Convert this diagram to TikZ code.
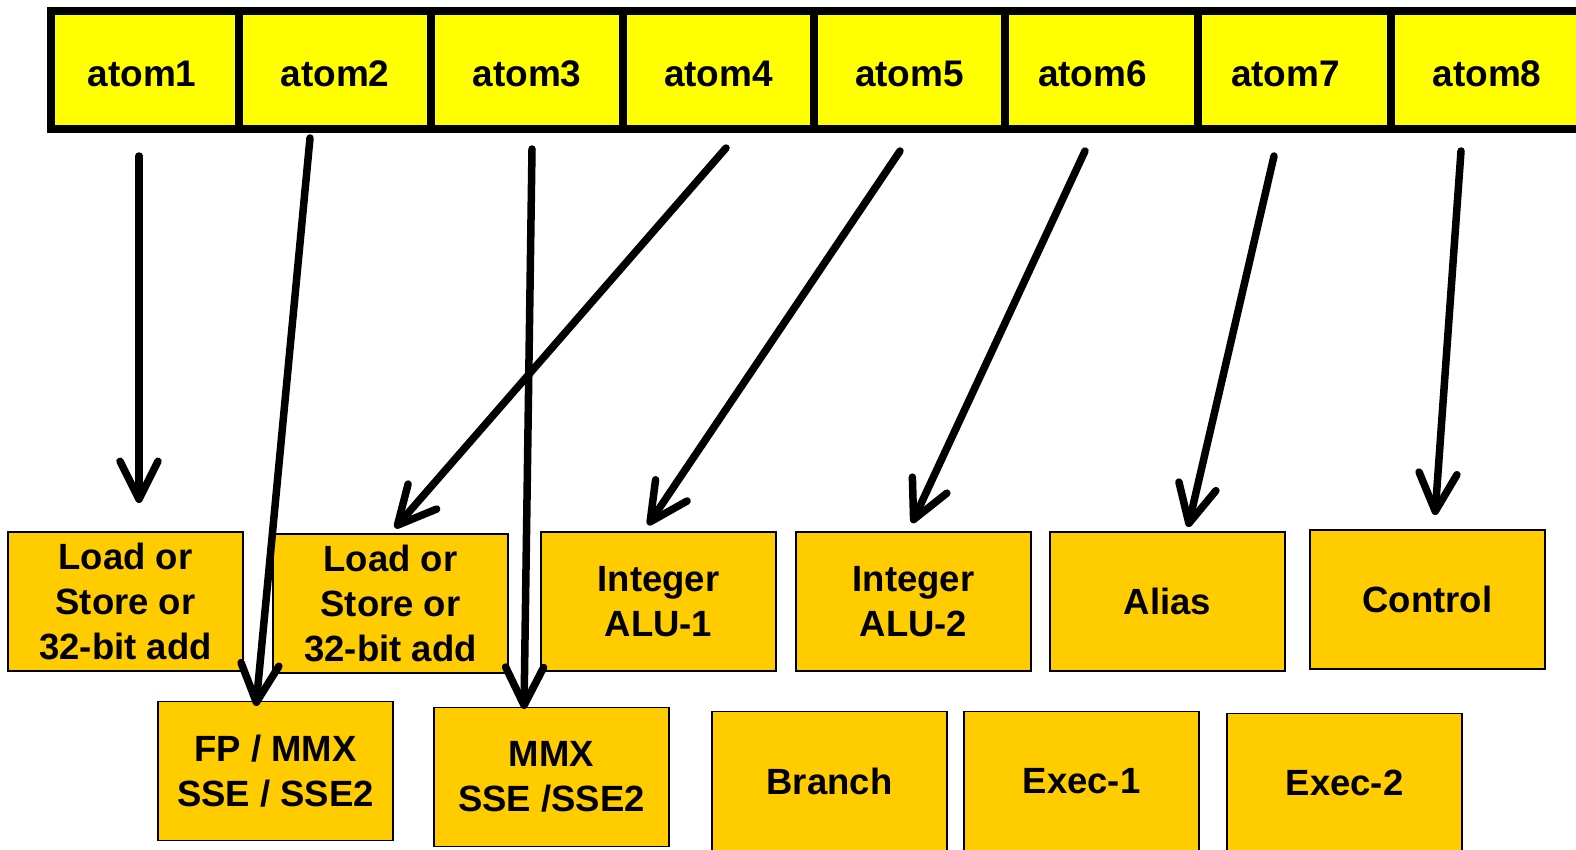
\documentclass[tikz,border=0pt]{standalone}
\usepackage{fontspec}
\setmainfont{Liberation Sans}
\usetikzlibrary{arrows.meta,calc}
\definecolor{cellyellow}{HTML}{FFFF00}
\definecolor{unitgold}{HTML}{FFCC00}
\begin{document}
\begin{tikzpicture}[x=1pt,y=-1pt,
  cell/.style={draw=black,line width=8pt,fill=cellyellow,rectangle,inner sep=0pt,minimum height=118pt,text height=33pt,text depth=0pt,font=\fontsize{37}{45}\selectfont\bfseries},
  unit/.style={draw=black,line width=1.8pt,fill=unitgold,rectangle,inner sep=0pt,minimum width=235pt,minimum height=139pt,align=center,font=\fontsize{36.5}{45}\selectfont\bfseries},
  arr/.style={line width=7.5pt,line cap=round,-{Straight Barb[length=38pt,width=38pt,round]}}]
\useasboundingbox (0,0) rectangle (1576,849);
\clip (0,0) rectangle (1576,849);
% top bar
\node[cell,minimum width=188pt] (a1) at (145,70) {\hspace*{-6pt}atom1};
\node[cell,minimum width=192pt] (a2) at (335,70) {atom2};
\node[cell,minimum width=192pt] (a3) at (527,70) {atom3};
\node[cell,minimum width=191pt] (a4) at (718.5,70) {atom4};
\node[cell,minimum width=191pt] (a5) at (909.5,70) {atom5};
\node[cell,minimum width=193pt] (a6) at (1101.5,70) {\hspace*{-18pt}atom6};
\node[cell,minimum width=193pt] (a7) at (1294.5,70) {\hspace*{-18pt}atom7};
\node[cell,minimum width=192pt] (a8) at (1487,70) {atom8};
% units, upper row
\node[unit] (ls1) at (125.5,601.5) {Load or\\Store or\\32-bit add};
\node[unit] (ls2) at (390.5,603.5) {Load or\\Store or\\32-bit add};
\node[unit] (ia1) at (658.5,601.5) {Integer\\ALU-1};
\node[unit] (ia2) at (913.5,601.5) {Integer\\ALU-2};
\node[unit] (alias) at (1167.5,601.5) {Alias};
\node[unit] (ctrl) at (1427.5,599.5) {Control};
% units, lower row
\node[unit] (fp) at (275.5,771) {FP / MMX\\SSE / SSE2};
\node[unit] (mmx) at (551.5,777) {MMX\\SSE /SSE2};
\node[unit] (br) at (829.5,781) {Branch};
\node[unit] (ex1) at (1081.5,781) {Exec-1};
\node[unit] (ex2) at (1344.5,783) {Exec-2};
% arrow end points
\coordinate (s1) at (139,156);  \coordinate (t1) at (139,503);
\coordinate (s2) at (310,138);  \coordinate (t2) at (256,706);
\coordinate (s3) at (532,149);  \coordinate (t3) at (524,709);
\coordinate (s4) at (726,148);  \coordinate (t4) at (395,528);
\coordinate (s5) at (900,151);  \coordinate (t5) at (648,525);
\coordinate (s6) at (1085,151); \coordinate (t6) at (912,523);
\coordinate (s7) at (1274,156); \coordinate (t7) at (1188,527);
\coordinate (s8) at (1461,151); \coordinate (t8) at (1435,515);
\draw[arr] (s1) -- (t1);
\draw[arr] (s2) -- (t2);
\draw[arr] (s3) -- (t3);
\draw[arr] (s4) -- (t4);
\draw[arr] (s5) -- (t5);
\draw[arr] (s6) -- (t6);
\draw[arr] (s7) -- (t7);
\draw[arr] (s8) -- (t8);
\end{tikzpicture}
\end{document}
